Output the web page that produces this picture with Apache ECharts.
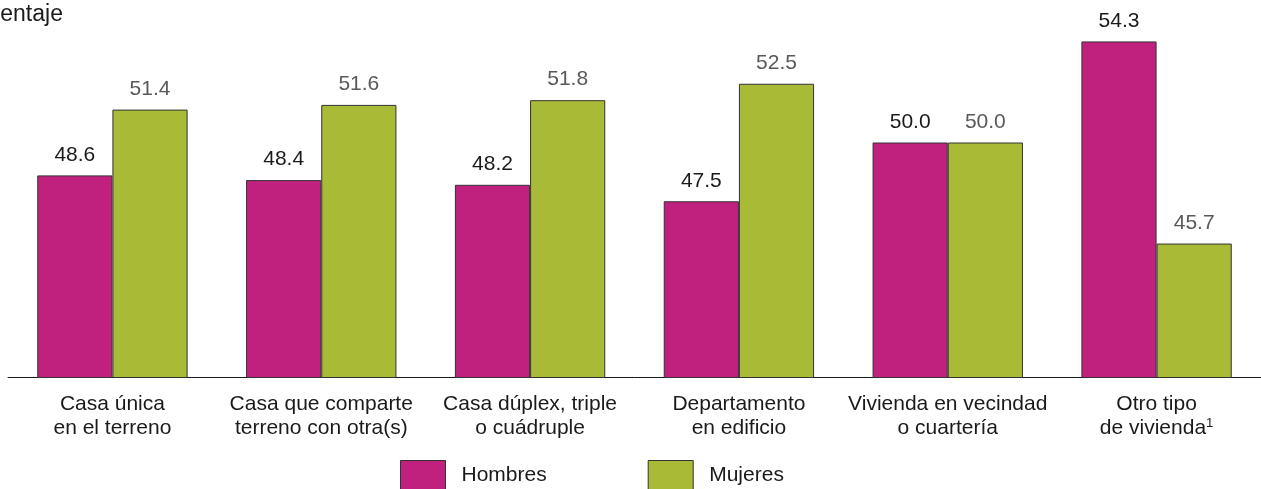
<!DOCTYPE html>
<html>
<head>
<meta charset="utf-8">
<script src="https://cdn.jsdelivr.net/npm/echarts@6/dist/echarts.min.js"></script>
<style>html,body{margin:0;padding:0;background:#fff;}#c{width:1261px;height:489px;}</style>
</head>
<body>
<div id="c"></div>
<script>
const categories = [
  "Casa única\nen el terreno",
  "Casa que comparte\nterreno con otra(s)",
  "Casa dúplex, triple\no cuádruple",
  "Departamento\nen edificio",
  "Vivienda en vecindad\no cuartería",
  "Otro tipo\nde vivienda{sup|1}"
];
const hombres = [48.6, 48.4, 48.2, 47.5, 50.0, 54.3];
const mujeres = [51.4, 51.6, 51.8, 52.5, 50.0, 45.7];
const seriesNames = ["Hombres", "Mujeres"];
const yTitle = "Porcentaje";

const font = "'Liberation Sans', Arial, sans-serif";
const chart = echarts.init(document.getElementById('c'));
chart.setOption({
  animation: false,
  title: {
    text: yTitle, left: -47, top: 3, padding: 0,
    textStyle: {fontFamily: font, fontSize: 23, fontWeight: 'normal', color: '#1a1a1a'}
  },
  legend: {
    data: seriesNames, top: 460, left: 400, padding: 0, itemWidth: 45, itemHeight: 30, itemGap: 101,
    icon: 'rect',
    itemStyle: {borderColor: '#333', borderWidth: 1},
    textStyle: {fontFamily: font, fontSize: 21, color: '#1a1a1a', padding: [0, 0, 0, 11]}
  },
  grid: {left: 8, right: 0, top: 1.5, bottom: 111.5, containLabel: false},
  xAxis: {
    type: 'category', data: categories,
    axisLine: {lineStyle: {color: '#1a1a1a', width: 1}},
    axisTick: {show: false},
    axisLabel: {
      fontFamily: font, fontSize: 21, color: '#1a1a1a', lineHeight: 24, margin: 15, interval: 0,
      rich: {sup: {fontFamily: font, fontSize: 13, color: '#1a1a1a', verticalAlign: 'top', lineHeight: 24, padding: [0, 0, 10, 0]}}
    }
  },
  yAxis: {type: 'value', min: 40, max: 56, show: false, splitLine: {show: false}},
  series: [
    {
      name: seriesNames[0], type: 'bar', data: hombres, barGap: '0%', barCategoryGap: '28%',
      itemStyle: {color: '#C0217F', borderColor: '#333', borderWidth: 1},
      label: {show: true, position: 'top', distance: 10, formatter: p => p.value.toFixed(1),
        fontFamily: font, fontSize: 21, color: '#1a1a1a'}
    },
    {
      name: seriesNames[1], type: 'bar', data: mujeres, barGap: '0%', barCategoryGap: '28%',
      itemStyle: {color: '#A9BA36', borderColor: '#333', borderWidth: 1},
      label: {show: true, position: 'top', distance: 10, formatter: p => p.value.toFixed(1),
        fontFamily: font, fontSize: 21, color: '#595959'}
    }
  ]
});
</script>
</body>
</html>
